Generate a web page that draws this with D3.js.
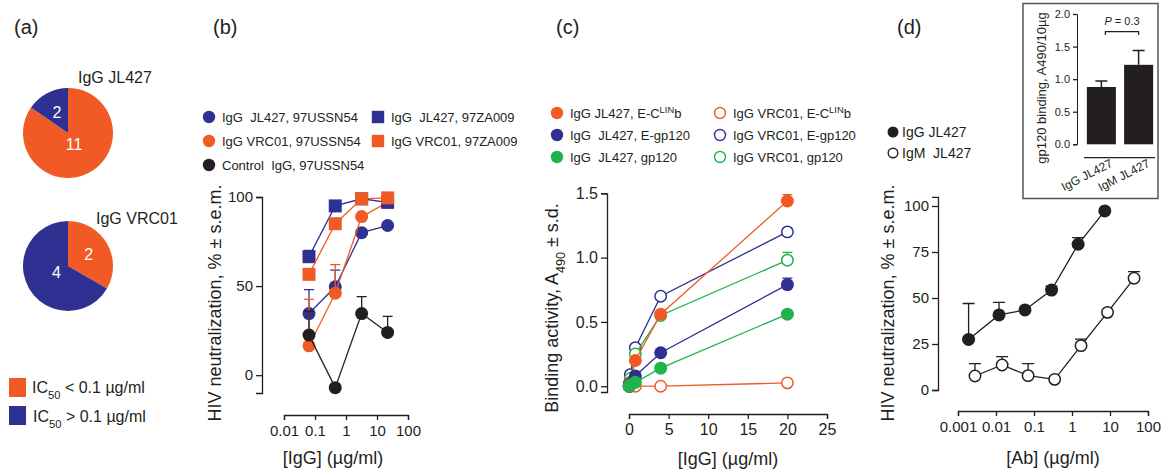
<!DOCTYPE html>
<html>
<head>
<meta charset="utf-8">
<script src="https://cdn.jsdelivr.net/npm/d3@7"></script>
<style>
  body { margin: 0; background: #fff; }
  svg { font-family: "Liberation Sans", Arial, Helvetica, sans-serif; }
  text { white-space: pre; }
</style>
</head>
<body>
<svg id="chart" width="1169" height="470"></svg>
<script>
// ---------- data: panel (a) ----------
var pieNames = ["IgG JL427", "IgG VRC01"];
var pieBelow = [11, 2];   // isolates with IC50 < 0.1 ug/ml
var pieAbove = [2, 4];    // isolates with IC50 > 0.1 ug/ml
var pieLegend = ["< 0.1 \u00b5g/ml", "> 0.1 \u00b5g/ml"];

// ---------- data: panel (b) ----------
var concB = [0.064, 0.45, 3.2, 22];
var xTicksB = [0.01, 0.1, 1, 10, 100];
var yTicksB = [0, 50, 100];
var jl427USSN54 = [34.6, 49.6, 80, 84];
var jl427USSN54Sem = [13.4, 9.4, 0, 0];
var vrc01USSN54 = [16.5, 46, 89, 97];
var vrc01USSN54Sem = [26, 16, 0, 0];
var jl427ZA009 = [66.5, 95, 99, 97];
var jl427ZA009Sem = [3.5, 0, 0, 0];
var vrc01ZA009 = [56.6, 85, 99, 99.5];
var controlUSSN54 = [22.5, -7, 34.6, 24];
var controlUSSN54Sem = [13.5, 0, 9.5, 9];

// ---------- data: panel (c) ----------
var concC = [0.032, 0.16, 0.8, 4, 20];
var xTicksC = [0, 5, 10, 15, 20, 25];
var yTicksC = [0, 0.5, 1.0, 1.5];
var jl427ECLINb = [0.0, 0.03, 0.2, 0.56, 1.44];
var jl427ECLINbSd = [0, 0, 0, 0, 0.05];
var jl427Egp120 = [0.0, 0.02, 0.08, 0.26, 0.79];
var jl427Egp120Sd = [0, 0, 0, 0, 0.05];
var jl427gp120 = [0.0, 0.01, 0.03, 0.14, 0.56];
var vrc01ECLINb = [0.0, 0.0, 0.0, 0.0, 0.026];
var vrc01Egp120 = [0.02, 0.09, 0.3, 0.70, 1.20];
var vrc01gp120 = [0.0, 0.06, 0.25, 0.55, 0.98];
var vrc01gp120Sd = [0, 0, 0, 0, 0.06];

// ---------- data: panel (d) ----------
var xTicksD = [0.001, 0.01, 0.1, 1, 10, 100];
var yTicksD = [0, 25, 50, 75, 100];
var concIgG = [0.0019, 0.012, 0.058, 0.29, 1.45, 7.3];
var igGJL427 = [27.5, 40.8, 43.5, 54.3, 79.2, 97.3];
var igGJL427Sem = [19.5, 6.8, 0, 2.2, 3.6, 0];
var concIgM = [0.0028, 0.0145, 0.07, 0.35, 1.73, 8.6, 43];
var igMJL427 = [7.6, 13.6, 7.8, 5.8, 24.1, 42.2, 60.7];
var igMJL427Sem = [6.7, 4.5, 6.5, 0, 3.6, 0, 3.6];

// inset: gp120 binding
var insetGroups = ["IgG JL427", "IgM JL427"];
var insetValues = [0.88, 1.22];
var insetErr = [0.09, 0.22];
var insetTicks = [0, 0.5, 1.0, 1.5, 2.0];
var insetP = "0.3";

// ---------- colours ----------
var ORANGE = "#f15a24", BLUE = "#2e3192", GREEN = "#22b24c", BLACK = "#231f20";

var svg = d3.select("#chart");

function panelLabel(x, txt) {
    svg.append("text").attr("x", x).attr("y", 34).attr("font-size", 20).attr("fill", BLACK).text(txt);
}

function styleAxis(g, fs) {
    g.attr("font-size", fs).attr("font-family", null);
    g.selectAll("path, line").attr("stroke", BLACK).attr("stroke-width", 1.3);
    g.selectAll("text").attr("fill", BLACK);
}

// text with {sup} and _[sub] markup
function richText(sel, str, fs) {
    var re = /(\{[^}]*\}|_\[[^\]]*\])/g;
    var parts = str.split(re);
    parts.forEach(function(p) {
        if (!p) return;
        if (p[0] === "{") {
            sel.append("tspan").attr("font-size", fs * 0.72).attr("baseline-shift", "super").text(p.slice(1, -1));
        } else if (p[0] === "_") {
            sel.append("tspan").attr("font-size", fs * 0.7).attr("baseline-shift", "sub").text(p.slice(2, -1));
        } else {
            sel.append("tspan").text(p);
        }
    });
    return sel;
}

function drawSeries(g, s, xs, x, y, r, capHalf) {
    var pts = xs.map(function(c, i) {
        return {c: c, v: s.y[i], e: s.err ? s.err[i] : 0};
    });
    var gg = g.append("g");
    gg.append("path").datum(pts)
        .attr("fill", "none").attr("stroke", s.color).attr("stroke-width", 1.3)
        .attr("d", d3.line().x(function(d) { return x(d.c); }).y(function(d) { return y(d.v); }));
    gg.selectAll("path.eb").data(pts.filter(function(d) { return d.e > 0; }))
        .enter().append("path").attr("class", "eb")
        .attr("fill", "none").attr("stroke", s.color).attr("stroke-width", 1.3)
        .attr("d", function(d) {
            var cx = x(d.c), top = y(d.v + d.e);
            return "M" + cx + "," + y(d.v) + "V" + top + "M" + (cx - capHalf) + "," + top + "h" + (2 * capHalf);
        });
    if (s.shape === "square") {
        gg.selectAll("rect.m").data(pts).enter().append("rect").attr("class", "m")
            .attr("x", function(d) { return x(d.c) - r; })
            .attr("y", function(d) { return y(d.v) - r; })
            .attr("width", 2 * r).attr("height", 2 * r)
            .attr("fill", s.color);
    } else {
        gg.selectAll("circle.m").data(pts).enter().append("circle").attr("class", "m")
            .attr("cx", function(d) { return x(d.c); })
            .attr("cy", function(d) { return y(d.v); })
            .attr("r", s.open ? r - 0.8 : r)
            .attr("fill", s.open ? "#fff" : s.color)
            .attr("stroke", s.color).attr("stroke-width", s.open ? 1.5 : 0);
    }
}

function legendMarker(g, s, cx, cy, r) {
    if (s.shape === "square") {
        g.append("rect").attr("x", cx - r).attr("y", cy - r).attr("width", 2 * r).attr("height", 2 * r).attr("fill", s.color);
    } else {
        g.append("circle").attr("cx", cx).attr("cy", cy).attr("r", s.open ? r - 0.7 : r)
            .attr("fill", s.open ? "#fff" : s.color).attr("stroke", s.color).attr("stroke-width", s.open ? 1.4 : 0);
    }
}

// =================== panel (a) ===================
panelLabel(14, "(a)");
var pie = d3.pie().sort(null).value(function(d) { return d.v; });
var arc = d3.arc().innerRadius(0).outerRadius(45);
var labelArc = d3.arc().innerRadius(48).outerRadius(0);
var pieLayout = [{cy: 133, tx: 10, ty: -50}, {cy: 266, tx: 28, ty: -42}];

pieNames.forEach(function(name, i) {
    var g = svg.append("g").attr("transform", "translate(68," + pieLayout[i].cy + ")");
    var slices = pie([{v: pieBelow[i], c: ORANGE}, {v: pieAbove[i], c: BLUE}]);
    g.selectAll("path").data(slices).enter().append("path")
        .attr("d", arc).attr("fill", function(d) { return d.data.c; });
    g.selectAll("text.n").data(slices).enter().append("text").attr("class", "n")
        .attr("transform", function(d) {
            // the large slice's count sits nearer the middle
            var c = labelArc.centroid(d), k = (d.endAngle - d.startAngle) > 4 ? 0.55 : 1;
            return "translate(" + (c[0] * k) + "," + (c[1] * k) + ")";
        })
        .attr("text-anchor", "middle").attr("dy", "0.36em")
        .attr("font-size", 16).attr("fill", "#fff")
        .text(function(d) { return d.data.v; });
    g.append("text").attr("x", pieLayout[i].tx).attr("y", pieLayout[i].ty)
        .attr("font-size", 16).attr("fill", BLACK).text(name);
});

var legA = svg.append("g");
[ORANGE, BLUE].forEach(function(c, i) {
    legA.append("rect").attr("x", 9).attr("y", 378 + i * 28).attr("width", 17).attr("height", 19).attr("fill", c);
    var t = legA.append("text").attr("x", 32 + i).attr("y", 393 + i * 28.5).attr("font-size", 16).attr("fill", BLACK);
    richText(t, "IC_[50] " + pieLegend[i], 16);
});

// =================== panel (b) ===================
panelLabel(213, "(b)");
var xB = d3.scaleLog().domain([0.01, 100]).range([284, 408]);
var yB = d3.scaleLinear().domain([-10, 100]).range([393, 197]);

var gB = svg.append("g");
gB.append("g").attr("transform", "translate(262,0)")
    .call(d3.axisLeft(yB).tickValues(yTicksB).tickSizeOuter(0).tickSize(6).tickPadding(3))
    .call(styleAxis, 15);
gB.append("g").attr("transform", "translate(0,415)")
    .call(d3.axisBottom(xB).tickValues(xTicksB).tickFormat(function(d) { return String(d); })
        .tickSizeOuter(0).tickSize(5).tickPadding(5))
    .call(styleAxis, 15);
gB.append("text").attr("x", 333).attr("y", 464).attr("text-anchor", "middle").attr("font-size", 18)
    .attr("fill", BLACK).text("[IgG] (\u00b5g/ml)");
gB.append("text").attr("transform", "translate(221,303) rotate(-90)").attr("text-anchor", "middle")
    .attr("font-size", 18).attr("fill", BLACK).text("HIV neutralization, % \u00b1 s.e.m.");

var seriesB = [
    {label: "IgG  JL427, 97USSN54", y: jl427USSN54, err: jl427USSN54Sem, color: BLUE, shape: "circle", lx: 209, ly: 117},
    {label: "IgG VRC01, 97USSN54", y: vrc01USSN54, err: vrc01USSN54Sem, color: ORANGE, shape: "circle", lx: 209, ly: 141},
    {label: "IgG  JL427, 97ZA009", y: jl427ZA009, err: jl427ZA009Sem, color: BLUE, shape: "square", lx: 378, ly: 117},
    {label: "IgG VRC01, 97ZA009", y: vrc01ZA009, err: null, color: ORANGE, shape: "square", lx: 378, ly: 141},
    {label: "Control  IgG, 97USSN54", y: controlUSSN54, err: controlUSSN54Sem, color: BLACK, shape: "circle", lx: 209, ly: 165}
];
seriesB.forEach(function(s) { drawSeries(gB, s, concB, xB, yB, 6.5, 5); });
seriesB.forEach(function(s) {
    legendMarker(gB, s, s.lx, s.ly, 6.2);
    gB.append("text").attr("x", s.lx + 13).attr("y", s.ly + 5).attr("font-size", 13).attr("fill", BLACK).text(s.label);
});

// =================== panel (c) ===================
panelLabel(556, "(c)");
var xC = d3.scaleLinear().domain([0, 25]).range([629, 827]);
var yC = d3.scaleLinear().domain([-0.045, 1.5]).range([392, 193.3]);

var gC = svg.append("g");
gC.append("g").attr("transform", "translate(607,0)")
    .call(d3.axisLeft(yC).tickValues(yTicksC).tickFormat(d3.format(".1f")).tickSizeOuter(0).tickSize(6).tickPadding(3))
    .call(styleAxis, 16);
gC.append("g").attr("transform", "translate(0,414)")
    .call(d3.axisBottom(xC).tickValues(xTicksC).tickSizeOuter(0).tickSize(5).tickPadding(5))
    .call(styleAxis, 16);
gC.append("text").attr("x", 728).attr("y", 465).attr("text-anchor", "middle").attr("font-size", 18)
    .attr("fill", BLACK).text("[IgG] (\u00b5g/ml)");
var yLabC = gC.append("text").attr("transform", "translate(558,308) rotate(-90)").attr("text-anchor", "middle")
    .attr("font-size", 18).attr("fill", BLACK);
richText(yLabC, "Binding activity, A_[490] \u00b1 s.d.", 18);

var seriesC = [
    {label: "IgG VRC01, E-C{LIN}b", y: vrc01ECLINb, err: null, color: ORANGE, open: true, lx: 720, ly: 113},
    {label: "IgG VRC01, E-gp120", y: vrc01Egp120, err: null, color: BLUE, open: true, lx: 720, ly: 135},
    {label: "IgG VRC01, gp120", y: vrc01gp120, err: vrc01gp120Sd, color: GREEN, open: true, lx: 720, ly: 157},
    {label: "IgG JL427, E-C{LIN}b", y: jl427ECLINb, err: jl427ECLINbSd, color: ORANGE, open: false, lx: 557, ly: 113},
    {label: "IgG  JL427, E-gp120", y: jl427Egp120, err: jl427Egp120Sd, color: BLUE, open: false, lx: 557, ly: 135},
    {label: "IgG  JL427, gp120", y: jl427gp120, err: null, color: GREEN, open: false, lx: 557, ly: 157}
];
seriesC.forEach(function(s) { drawSeries(gC, s, concC, xC, yC, 6.5, 5); });
seriesC.forEach(function(s) {
    legendMarker(gC, s, s.lx, s.ly, 6.2);
    var t = gC.append("text").attr("x", s.lx + 13).attr("y", s.ly + 5).attr("font-size", 13).attr("fill", BLACK);
    richText(t, s.label, 13);
});

// =================== panel (d) ===================
panelLabel(897, "(d)");
var xD = d3.scaleLog().domain([0.001, 100]).range([958, 1148]);
var yD = d3.scaleLinear().domain([0, 105]).range([390, 196.8]);

var gD = svg.append("g");
gD.append("g").attr("transform", "translate(938,0)")
    .call(d3.axisLeft(yD).tickValues(yTicksD).tickSizeOuter(0).tickSize(6).tickPadding(3))
    .call(styleAxis, 15);
gD.append("g").attr("transform", "translate(0,411)")
    .call(d3.axisBottom(xD).tickValues(xTicksD).tickFormat(function(d) { return String(d); })
        .tickSizeOuter(0).tickSize(5).tickPadding(5))
    .call(styleAxis, 15);
gD.append("text").attr("x", 1053).attr("y", 464).attr("text-anchor", "middle").attr("font-size", 18)
    .attr("fill", BLACK).text("[Ab] (\u00b5g/ml)");
gD.append("text").attr("transform", "translate(894,303) rotate(-90)").attr("text-anchor", "middle")
    .attr("font-size", 18).attr("fill", BLACK).text("HIV neutralization, % \u00b1 s.e.m.");

var seriesD = [
    {label: "IgG JL427", x: concIgG, y: igGJL427, err: igGJL427Sem, color: BLACK, open: false, lx: 893, ly: 132},
    {label: "IgM  JL427", x: concIgM, y: igMJL427, err: igMJL427Sem, color: BLACK, open: true, lx: 893, ly: 153}
];
seriesD.forEach(function(s) { drawSeries(gD, s, s.x, xD, yD, 6.5, 6); });
seriesD.forEach(function(s) {
    legendMarker(gD, s, s.lx, s.ly, 5.5);
    gD.append("text").attr("x", s.lx + 9).attr("y", s.ly + 5).attr("font-size", 14).attr("fill", BLACK).text(s.label);
});

// ---------- inset ----------
var gI = svg.append("g");
gI.append("rect").attr("x", 1023).attr("y", 3.5).attr("width", 135).attr("height", 195)
    .attr("fill", "#fff").attr("stroke", "#555").attr("stroke-width", 1.5);
var yI = d3.scaleLinear().domain([0, 2]).range([144.3, 14]);
var xI = d3.scaleBand().domain(insetGroups).range([1085, 1155]).paddingInner(0.22).paddingOuter(0.05);
gI.append("g").attr("transform", "translate(1077,0)")
    .call(d3.axisLeft(yI).tickValues(insetTicks).tickFormat(d3.format(".1f")).tickSizeOuter(0).tickSize(4).tickPadding(3))
    .call(styleAxis, 11);
gI.selectAll("path.domain").attr("stroke-width", 1);
gI.append("line").attr("x1", 1084).attr("x2", 1155).attr("y1", 157.7).attr("y2", 157.7)
    .attr("stroke", BLACK).attr("stroke-width", 1.2);
insetGroups.forEach(function(gname, i) {
    var bx = xI(gname), bw = xI.bandwidth(), cx = bx + bw / 2;
    gI.append("path").attr("fill", "none").attr("stroke", BLACK).attr("stroke-width", 1.5)
        .attr("d", "M" + cx + "," + yI(insetValues[i]) + "V" + yI(insetValues[i] + insetErr[i]) +
            "M" + (cx - 6) + "," + yI(insetValues[i] + insetErr[i]) + "h12");
    gI.append("rect").attr("x", bx).attr("y", yI(insetValues[i])).attr("width", bw)
        .attr("height", yI(0) - yI(insetValues[i])).attr("fill", BLACK);
    gI.append("text").attr("transform", "translate(" + (cx + 12) + ",166) rotate(-27)")
        .attr("text-anchor", "end").attr("font-size", 12).attr("fill", BLACK).text(gname);
});
var c1 = xI(insetGroups[0]) + xI.bandwidth() / 2 + 4, c2 = xI(insetGroups[1]) + xI.bandwidth() / 2;
gI.append("path").attr("fill", "none").attr("stroke", BLACK).attr("stroke-width", 1.2)
    .attr("d", "M" + c1 + ",35V31.7H" + c2 + "V35");
var pt = gI.append("text").attr("x", (c1 + c2) / 2).attr("y", 25).attr("text-anchor", "middle")
    .attr("font-size", 11).attr("fill", BLACK);
pt.append("tspan").attr("font-style", "italic").text("P");
pt.append("tspan").text(" = " + insetP);
gI.append("text").attr("transform", "translate(1046,88) rotate(-90)").attr("text-anchor", "middle")
    .attr("font-size", 13).attr("fill", BLACK).text("gp120 binding, A490/10\u00b5g");
</script>
</body>
</html>
